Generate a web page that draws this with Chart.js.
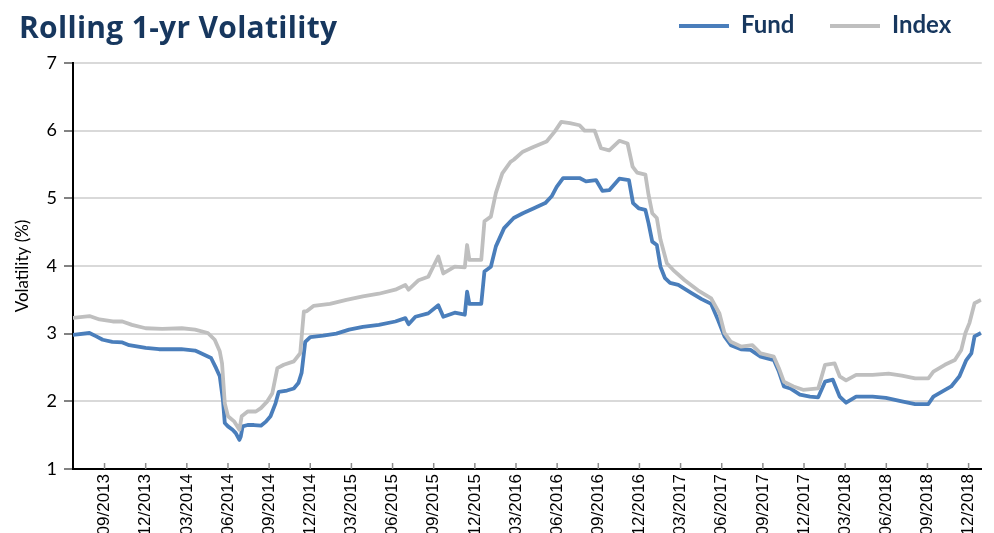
<!DOCTYPE html>
<html>
<head>
<meta charset="utf-8">
<script src="https://cdn.jsdelivr.net/npm/chart.js@4.4.1/dist/chart.umd.min.js"></script>
<style>
html,body{margin:0;padding:0;background:#fff;overflow:hidden}
#wrap{position:relative;width:994px;height:533px}
canvas{position:absolute;left:0;top:0}
#title{position:absolute;left:19px;top:12px;font:700 30px/30px "Open Sans",sans-serif;letter-spacing:0.3px;color:#17375e;white-space:nowrap}
.lgtxt{position:absolute;top:12px;font:700 24px/24px Lato,sans-serif;color:#17375e;white-space:nowrap}
.lgsw{position:absolute;top:24px;height:4px;width:50px}
</style>
</head>
<body>
<div id="wrap">
  <canvas id="c" width="994" height="533"></canvas>
  <div id="title">Rolling 1-yr Volatility</div>
  <div id="legend"></div>
</div>
<script>
// ---- data ----
const seriesNames = ['Fund', 'Index'];
const seriesColors = ['#4a7ebb', '#bfbfbf'];

const tickLabels = ['09/2013','12/2013','03/2014','06/2014','09/2014','12/2014','03/2015','06/2015','09/2015','12/2015',
  '03/2016','06/2016','09/2016','12/2016','03/2017','06/2017','09/2017','12/2017','03/2018','06/2018','09/2018','12/2018'];

const fundDates = ['2013-06-19','2013-07-28','2013-08-13','2013-08-27','2013-09-18','2013-10-10','2013-10-25','2013-12-01','2013-12-30',
  '2014-02-19','2014-03-19','2014-04-02','2014-04-24','2014-05-05','2014-05-13','2014-05-20','2014-05-24','2014-06-01','2014-06-11',
  '2014-06-18','2014-06-26','2014-06-29','2014-07-03','2014-07-14','2014-07-28','2014-08-13','2014-08-24','2014-09-04','2014-09-15',
  '2014-09-22','2014-10-10','2014-10-25','2014-11-05','2014-11-12','2014-11-20','2014-12-01','2014-12-29',
  '2015-01-28','2015-02-26','2015-03-26','2015-05-01','2015-06-07','2015-06-29','2015-07-06','2015-07-21','2015-08-19','2015-09-11',
  '2015-09-22','2015-10-17','2015-11-09','2015-11-14','2015-11-19','2015-12-15','2015-12-22',
  '2016-01-06','2016-01-17','2016-02-05','2016-02-26','2016-03-16','2016-04-09','2016-05-05','2016-05-19','2016-05-30','2016-06-14',
  '2016-07-20','2016-08-04','2016-08-26','2016-09-10','2016-09-25','2016-10-17','2016-11-08','2016-11-17','2016-11-30','2016-12-14',
  '2016-12-21','2016-12-29',
  '2017-01-09','2017-01-17','2017-01-27','2017-02-08','2017-02-26','2017-03-25','2017-04-17','2017-05-08','2017-05-23','2017-06-07',
  '2017-06-21','2017-07-13','2017-08-04','2017-08-26','2017-09-25','2017-10-06','2017-10-17','2017-11-01','2017-11-22','2017-12-14',
  '2018-01-02','2018-01-17','2018-02-04','2018-02-19','2018-03-03','2018-03-25','2018-05-01','2018-05-30','2018-07-05','2018-08-04',
  '2018-09-03','2018-09-14','2018-10-02','2018-10-23','2018-11-11','2018-11-26','2018-12-07','2018-12-14','2018-12-28'];
const fundValues = [2.98,3.01,2.96,2.91,2.88,2.87,2.83,2.79,2.77,
  2.77,2.75,2.71,2.64,2.49,2.37,2.02,1.68,1.63,1.58,
  1.53,1.43,1.48,1.63,1.65,1.65,1.64,1.70,1.78,1.97,
  2.14,2.16,2.19,2.27,2.42,2.88,2.95,2.97,
  3.00,3.06,3.10,3.13,3.18,3.23,3.14,3.25,3.30,3.42,
  3.25,3.31,3.28,3.62,3.44,3.44,3.92,
  3.99,4.29,4.56,4.71,4.78,4.85,4.93,5.03,5.17,5.30,
  5.30,5.25,5.27,5.11,5.12,5.29,5.27,4.93,4.85,4.83,
  4.63,4.36,
  4.31,3.99,3.82,3.75,3.72,3.60,3.51,3.44,3.20,2.96,
  2.83,2.77,2.76,2.66,2.61,2.44,2.22,2.19,2.10,2.07,
  2.06,2.29,2.32,2.07,1.98,2.07,2.07,2.05,2.00,1.96,
  1.96,2.07,2.14,2.22,2.37,2.61,2.71,2.96,3.01];

const indexDates = ['2013-06-19','2013-07-28','2013-08-20','2013-09-19','2013-10-10','2013-11-01','2013-12-01',
  '2014-01-07','2014-02-20','2014-03-19','2014-04-17','2014-05-02','2014-05-13','2014-05-18','2014-05-24','2014-06-01','2014-06-15',
  '2014-06-26','2014-07-01','2014-07-14','2014-08-02','2014-08-13','2014-08-27','2014-09-08','2014-09-19','2014-10-03','2014-10-25',
  '2014-11-09','2014-11-17','2014-11-23','2014-12-08',
  '2015-01-14','2015-02-20','2015-03-26','2015-05-01','2015-06-07','2015-06-29','2015-07-06','2015-07-28','2015-08-19','2015-09-11',
  '2015-09-22','2015-10-17','2015-11-09','2015-11-14','2015-11-19','2015-12-15','2015-12-22',
  '2016-01-06','2016-01-17','2016-02-01','2016-02-19','2016-02-26','2016-03-16','2016-04-09','2016-05-08','2016-05-26','2016-06-10',
  '2016-06-29','2016-07-20','2016-08-01','2016-08-23','2016-09-07','2016-09-25','2016-10-17','2016-11-05','2016-11-16','2016-11-26',
  '2016-12-14','2016-12-21','2016-12-29',
  '2017-01-09','2017-01-17','2017-02-01','2017-02-15','2017-03-10','2017-04-09','2017-05-08','2017-05-26','2017-06-07','2017-06-21',
  '2017-07-13','2017-08-08','2017-08-26','2017-09-25','2017-10-06','2017-10-17','2017-11-08','2017-11-29',
  '2018-01-02','2018-01-17','2018-02-08','2018-02-19','2018-03-03','2018-03-25','2018-05-01','2018-06-06','2018-07-05','2018-08-04',
  '2018-09-03','2018-09-14','2018-10-09','2018-10-31','2018-11-15','2018-11-24','2018-12-03','2018-12-14','2018-12-28'];
const indexValues = [3.23,3.26,3.21,3.18,3.18,3.13,3.08,
  3.07,3.08,3.06,3.01,2.91,2.74,2.56,1.97,1.78,1.70,
  1.58,1.78,1.85,1.85,1.90,2.00,2.12,2.49,2.54,2.59,
  2.71,3.33,3.33,3.41,
  3.44,3.50,3.55,3.59,3.65,3.72,3.65,3.79,3.84,4.14,
  3.89,3.99,3.98,4.31,4.09,4.09,4.66,
  4.73,5.08,5.37,5.54,5.57,5.69,5.76,5.84,5.99,6.13,
  6.11,6.08,6.00,6.00,5.74,5.71,5.85,5.81,5.47,5.38,
  5.35,5.05,4.78,
  4.71,4.39,4.04,3.94,3.79,3.64,3.52,3.30,3.01,2.88,
  2.81,2.83,2.71,2.66,2.49,2.29,2.22,2.17,
  2.19,2.54,2.56,2.37,2.31,2.39,2.39,2.41,2.38,2.34,
  2.34,2.44,2.54,2.61,2.76,3.01,3.16,3.45,3.50];

// ---- helpers: months since Jan 2013 ----
function dateToT(s){ const [y,m,d]=s.split('-').map(Number); return (y-2013)*12+(m-1)+(d-1)/30; }
function labelToT(l){ const [m,y]=l.split('/').map(Number); return (y-2013)*12+(m-1); }

const innerTicks = {
  id:'innerTicks',
  afterDatasetsDraw(c){
    const s=c.scales.x, ctx=c.ctx;
    ctx.save(); ctx.strokeStyle='#8c8c8c'; ctx.lineWidth=1.5;
    s.ticks.forEach(t=>{ const x=s.getPixelForValue(t.value); ctx.beginPath(); ctx.moveTo(x,s.top); ctx.lineTo(x,s.top-6); ctx.stroke(); });
    ctx.restore();
  }
};

const chart = new Chart(document.getElementById('c').getContext('2d'), {
  type:'line',
  data:{datasets:[
    {label:seriesNames[0], data:fundDates.map((d,i)=>({x:dateToT(d),y:fundValues[i]})), borderColor:seriesColors[0],
     borderWidth:3.8, pointRadius:0, tension:0, borderJoinStyle:'round', order:1},
    {label:seriesNames[1], data:indexDates.map((d,i)=>({x:dateToT(d),y:indexValues[i]})), borderColor:seriesColors[1],
     borderWidth:3.8, pointRadius:0, tension:0, borderJoinStyle:'round', order:0}
  ]},
  options:{
    responsive:false, animation:false,
    layout:{padding:{top:63,left:0,right:0,bottom:0}},
    plugins:{legend:{display:false}, tooltip:{enabled:false}},
    scales:{
      x:{type:'linear', min:5.7, max:71.96,
        afterBuildTicks:s=>{ s.ticks = tickLabels.map(l=>({value:labelToT(l)})); },
        afterFit:s=>{ s.height = 64; },
        grid:{drawOnChartArea:false, drawTicks:false},
        border:{color:'#000', width:2},
        ticks:{autoSkip:false, minRotation:90, maxRotation:90, padding:5, color:'#000',
          font:{family:'"Liberation Sans", Arial, sans-serif', size:17},
          callback:(v,i)=>tickLabels[i]}
      },
      y:{min:1, max:7,
        afterFit:s=>{ s.width = 73; },
        ticks:{stepSize:1, padding:7, color:'#000', font:{family:'Lato, sans-serif', size:18}},
        grid:{color:'#d9d9d9', lineWidth:2, tickLength:9, tickColor:'#595959', tickWidth:1.5},
        border:{color:'#000', width:2},
        title:{display:true, text:'Volatility (%)', color:'#000', font:{family:'Lato, sans-serif', size:17}, padding:{top:12,bottom:0}}
      }
    }
  },
  plugins:[innerTicks]
});

// ---- HTML legend ----
const lg = document.getElementById('legend');
const swLeft = [679, 830], txtLeft = [741, 892];
seriesNames.forEach((n,i)=>{
  const sw=document.createElement('div'); sw.className='lgsw'; sw.style.left=swLeft[i]+'px'; sw.style.background=seriesColors[i]; lg.appendChild(sw);
  const t=document.createElement('div'); t.className='lgtxt'; t.style.left=txtLeft[i]+'px'; t.textContent=n; lg.appendChild(t);
});
</script>
</body>
</html>
